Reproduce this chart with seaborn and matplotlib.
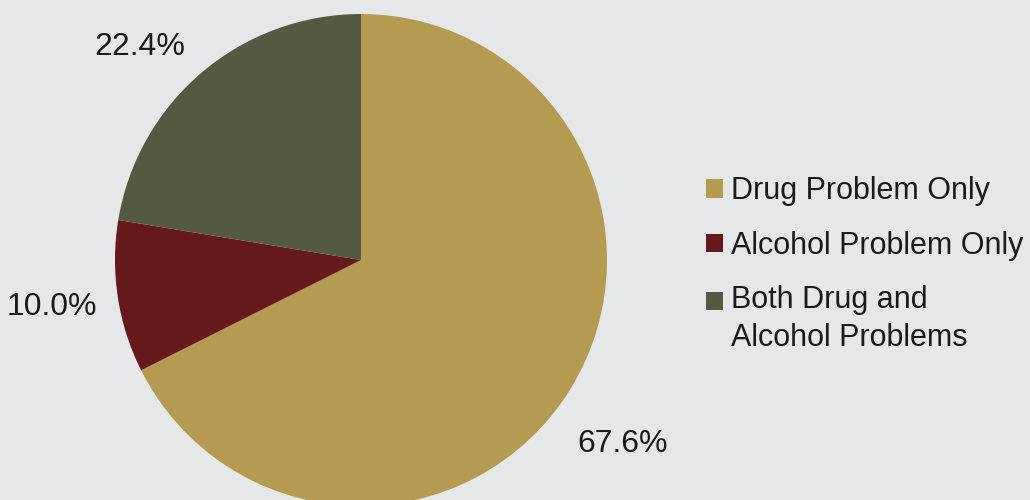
import matplotlib
matplotlib.use('Agg')
from matplotlib import pyplot as plt
from matplotlib.patches import Rectangle
from matplotlib.legend_handler import HandlerPatch
import seaborn as sns
import numpy as np

categories = ['Drug Problem Only', 'Alcohol Problem Only', 'Both Drug and\nAlcohol Problems']
shares = [67.6, 10.0, 22.4]
colors = ['#b59a51', '#65191c', '#545a41']
bg = '#e6e7e9'

# where the percent labels sit: distance from centre (in radii) and a small
# turn away from the wedge's middle angle, in degrees
label_dist = [1.29, 1.27, 1.26]
label_turn = [-2.9, -0.7, 5.3]

sns.set_theme(style='white')
plt.rcParams['font.family'] = ['Liberation Sans', 'DejaVu Sans']

fig = plt.figure(figsize=(10.3, 5), dpi=100, facecolor=bg)
# pie radius 246px, centre at (361, 260) px; pie() leaves limits at +-1.25
ax = fig.add_axes([53.5 / 1030, -67.5 / 500, 615 / 1030, 615 / 500])
ax.set_facecolor(bg)

wedges, texts, autotexts = ax.pie(shares, colors=sns.color_palette(colors), startangle=90,
                                  counterclock=False, autopct='%1.1f%%', pctdistance=1.27,
                                  wedgeprops=dict(linewidth=0),
                                  textprops=dict(fontsize=23, color='#1a1a1a',
                                                 va='center_baseline'))
ax.set_aspect('equal')

# nudge each percent label off the wedge middle, as in the original
for w, t, d, turn in zip(wedges, autotexts, label_dist, label_turn):
    mid = np.deg2rad((w.theta1 + w.theta2) / 2 + turn)
    t.set_position((d * np.cos(mid), d * np.sin(mid)))


# the two-line entry has its square next to the first line, not the middle
def raised(legend, orig_handle, xdescent, ydescent, width, height, fontsize):
    return Rectangle((-xdescent, -ydescent + 13.3), width, height)


leg = fig.legend(wedges, categories, loc='center left', bbox_to_anchor=(706 / 1030, 0.471),
                 frameon=False, fontsize=22, handlelength=0.56, handleheight=0.56,
                 handletextpad=0.26, labelspacing=0.8, borderpad=0, borderaxespad=0,
                 labelcolor='#1a1a1a',
                 handler_map={wedges[2]: HandlerPatch(patch_func=raised)})
for t in leg.get_texts():
    t.set_linespacing(1.33)

fig.savefig('out.png', dpi=100, facecolor=bg)
